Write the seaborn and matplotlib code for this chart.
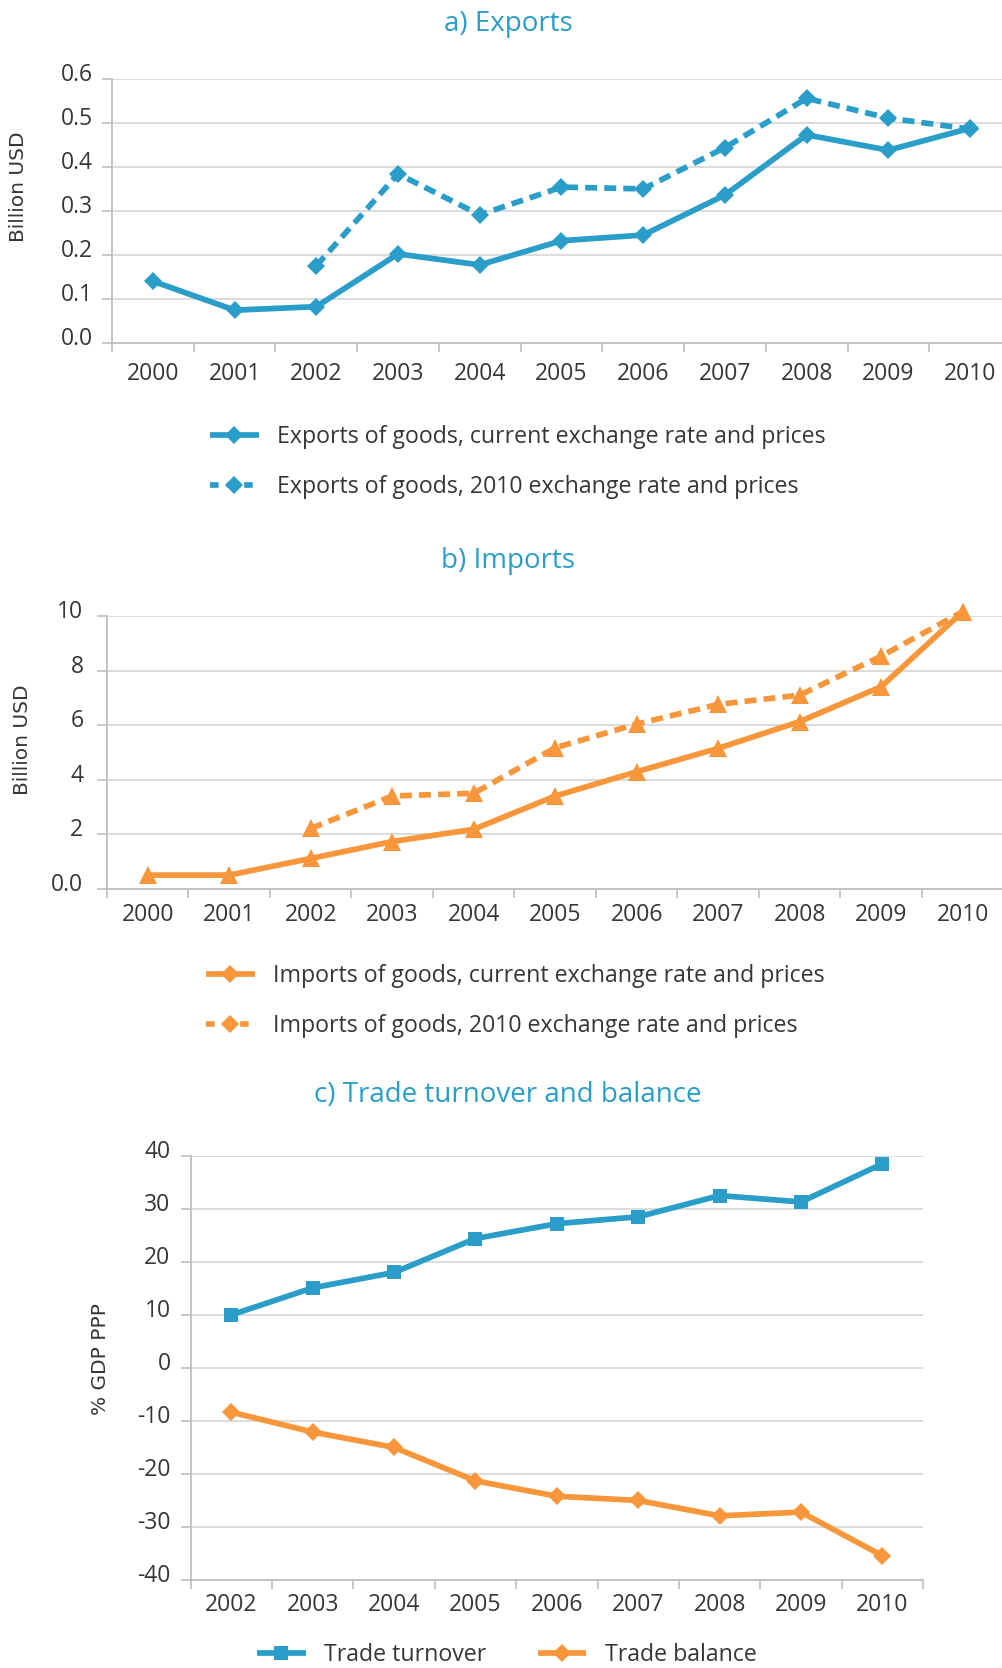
import matplotlib
matplotlib.use('Agg')
import matplotlib.pyplot as plt
import matplotlib.transforms as mtransforms
from matplotlib.lines import Line2D
import seaborn as sns

# ---- data ----
years_ab = ['2000', '2001', '2002', '2003', '2004', '2005', '2006', '2007', '2008', '2009', '2010']
years_c = ['2002', '2003', '2004', '2005', '2006', '2007', '2008', '2009', '2010']

exports_current = [0.14, 0.074, 0.082, 0.202, 0.177, 0.232, 0.245, 0.336, 0.473, 0.438, 0.488]
exports_2010 = [0.175, 0.384, 0.291, 0.354, 0.350, 0.444, 0.556, 0.511, 0.486]   # from 2002

imports_current = [0.51, 0.51, 1.12, 1.74, 2.19, 3.41, 4.30, 5.16, 6.14, 7.42, 10.17]
imports_2010 = [2.22, 3.41, 3.51, 5.18, 6.05, 6.77, 7.11, 8.54, 10.17]   # from 2002

trade_turnover = [10.0, 15.1, 18.0, 24.4, 27.2, 28.5, 32.5, 31.3, 38.5]
trade_balance = [-8.35, -12.1, -15.0, -21.3, -24.2, -25.0, -27.9, -27.2, -35.4]

exp_ticks = [0.0, 0.1, 0.2, 0.3, 0.4, 0.5, 0.6]
exp_ticklabels = ['0.0', '0.1', '0.2', '0.3', '0.4', '0.5', '0.6']
imp_ticks = [0, 2, 4, 6, 8, 10]
imp_ticklabels = ['0.0', '2', '4', '6', '8', '10']
tb_ticks = [-40, -30, -20, -10, 0, 10, 20, 30, 40]
tb_ticklabels = ['-40', '-30', '-20', '-10', '0', '10', '20', '30', '40']

BLUE = '#2A9DC8'
ORANGE = '#F7963A'
TXT = '#363636'
GRID = '#D9D9D9'
AXC = '#BFBFBF'

sns.set_style('white')
plt.rcParams['font.family'] = ['Open Sans', 'DejaVu Sans']
plt.rcParams['text.color'] = TXT

W, H = 1003, 1668
fig = plt.figure(figsize=(W / 100, H / 100), dpi=100)


def px_axes(left, right, top, bottom):
    return fig.add_axes([left / W, 1 - bottom / H, (right - left) / W, (bottom - top) / H])


def style_axis(ax, n, ticks, ticklabels, ylim, ypad, xpad, ylen):
    ax.set_xlim(-0.5, n - 0.5)
    ax.set_ylim(*ylim)
    ax.set_yticks(ticks)
    ax.set_yticklabels(ticklabels)
    ax.set_xticks([i - 0.5 for i in range(n + 1)])
    ax.set_xticklabels([])
    ax.set_xticks(range(n), minor=True)
    ax.grid(axis='y', color=GRID, linewidth=1.3)
    ax.grid(axis='x', visible=False)
    ax.set_axisbelow(True)
    for s in ['top', 'right']:
        ax.spines[s].set_visible(False)
    for s in ['left', 'bottom']:
        ax.spines[s].set_color(AXC)
        ax.spines[s].set_linewidth(1.3)
    ax.tick_params(axis='x', which='major', direction='out', length=6.5, width=1.2,
                   color=AXC, bottom=True)
    ax.tick_params(axis='x', which='minor', length=0, pad=xpad, labelsize=16.5,
                   labelcolor=TXT, bottom=True)
    ax.tick_params(axis='y', direction='out', length=ylen, width=1.2, color=AXC,
                   pad=ypad, labelsize=16.5, labelcolor=TXT, left=True)
    ax.set_xlabel('')
    ax.set_ylabel('')
    off = mtransforms.ScaledTranslation(0, 7 / 100, fig.dpi_scale_trans)
    for lab in ax.get_yticklabels():
        lab.set_transform(lab.get_transform() + off)


def add_line(ax, xs, ys, color, marker, ms, dashed=False):
    sns.lineplot(x=xs, y=ys, ax=ax, color=color, marker=marker, markersize=ms,
                 linewidth=4.1, markeredgewidth=0, sort=False)
    ln = ax.lines[-1]
    ln.set_solid_capstyle('butt')
    ln.set_clip_on(False)
    ln.set_zorder(3)
    if dashed:
        ln.set_dashes([2.1, 1.25])
        ln.set_dash_capstyle('butt')
    return ln


# ---- a) Exports ----
ax1 = px_axes(112, 1011, 79, 342.7)
add_line(ax1, list(range(11)), exports_current, BLUE, 'D', 9)
add_line(ax1, list(range(2, 11)), exports_2010, BLUE, 'D', 9, dashed=True)
style_axis(ax1, 11, exp_ticks, exp_ticklabels, (0, 0.6), 6.5, 14, 7)
ax1.set_xticklabels(years_ab, minor=True)

# ---- b) Imports ----
ax2 = px_axes(107, 1003.5, 616.3, 889)
add_line(ax2, list(range(11)), imports_current, ORANGE, '^', 13)
add_line(ax2, list(range(2, 11)), imports_2010, ORANGE, '^', 13, dashed=True)
style_axis(ax2, 11, imp_ticks, imp_ticklabels, (0, 10), 10, 10, 7)
ax2.set_xticklabels(years_ab, minor=True)

# ---- c) Trade turnover and balance ----
ax3 = px_axes(190.7, 923, 1155.8, 1580)
add_line(ax3, list(range(9)), trade_turnover, BLUE, 's', 10.5)
add_line(ax3, list(range(9)), trade_balance, ORANGE, 'D', 9)
style_axis(ax3, 9, tb_ticks, tb_ticklabels, (-40, 40), 7.5, 9.5, 7)
ax3.set_xticklabels(years_c, minor=True)

# titles and y labels
for txt, y in [('a) Exports', 24), ('b) Imports', 561), ('c) Trade turnover and balance', 1095)]:
    fig.text(508 / W, 1 - y / H, txt, ha='center', va='center', fontsize=20, color=BLUE)
for txt, x, y in [('Billion USD', 19, 187), ('Billion USD', 23, 740), ('% GDP PPP', 101, 1359)]:
    fig.text(x / W, 1 - y / H, txt, ha='center', va='center', rotation=90, fontsize=14.5,
             color=TXT, family='DejaVu Sans')

# legends
def handle(color, dashed=False, marker='D', ms=9):
    return Line2D([], [], color=color, linewidth=4.1, marker=marker, markersize=ms,
                  markeredgewidth=0, dashes=[1.5, 1.5] if dashed else (None, None),
                  solid_capstyle='butt', dash_capstyle='butt')


leg_kw = dict(frameon=False, fontsize=16.7, handlelength=2.1, handletextpad=0.8,
              borderpad=0, borderaxespad=0, loc='center left', labelcolor=TXT)

fig.legend([handle(BLUE), handle(BLUE, dashed=True)],
           ['Exports of goods, current exchange rate and prices',
            'Exports of goods, 2010 exchange rate and prices'],
           bbox_to_anchor=(210 / W, 1 - 462 / H), labelspacing=1.1, **leg_kw)
fig.legend([handle(ORANGE), handle(ORANGE, dashed=True)],
           ['Imports of goods, current exchange rate and prices',
            'Imports of goods, 2010 exchange rate and prices'],
           bbox_to_anchor=(206 / W, 1 - 1001 / H), labelspacing=1.1, **leg_kw)
fig.legend([handle(BLUE, marker='s', ms=9.5), handle(ORANGE)],
           ['Trade turnover', 'Trade balance'], ncol=2, columnspacing=2.2,
           bbox_to_anchor=(257 / W, 1 - 1655 / H), **leg_kw)

fig.savefig('out.png', dpi=100)
